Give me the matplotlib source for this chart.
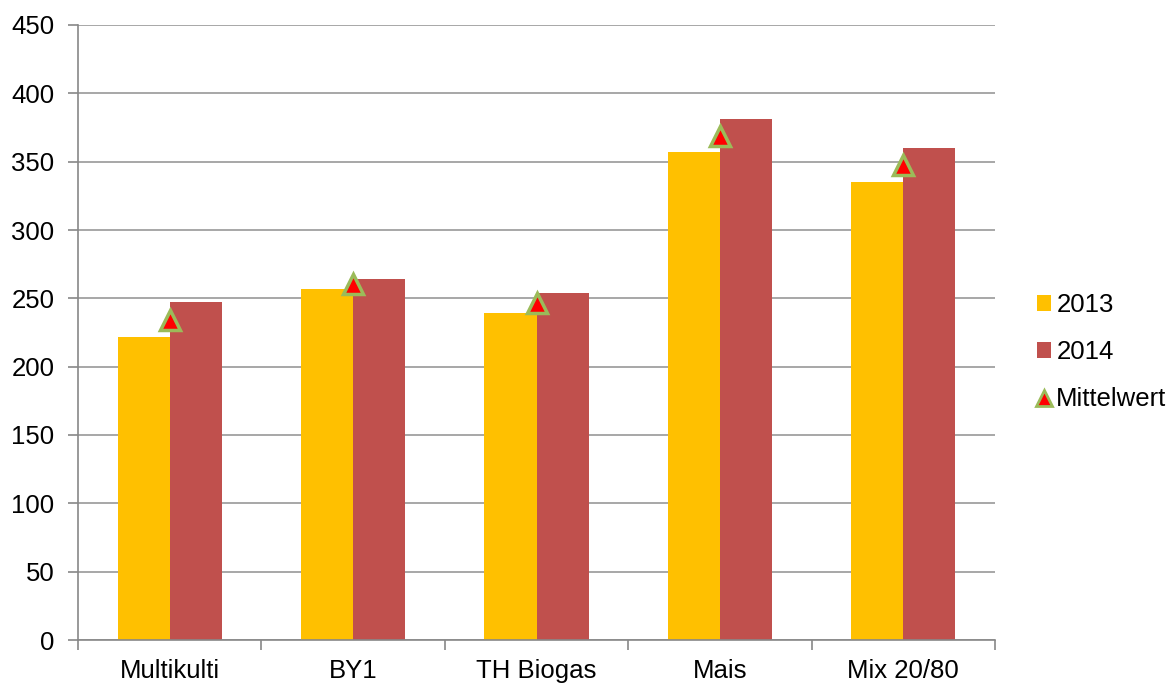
import matplotlib
matplotlib.use("Agg")
import matplotlib.pyplot as plt
import numpy as np
from matplotlib.lines import Line2D
from matplotlib.patches import Patch

categories = ["Multikulti", "BY1", "TH Biogas", "Mais", "Mix 20/80"]
values_2013 = [222, 257, 239, 357, 335]
values_2014 = [247, 264, 254, 381, 360]
mittelwert = [234.5, 260.5, 246.5, 369, 347.5]
yticks = [0, 50, 100, 150, 200, 250, 300, 350, 400, 450]

plt.rcParams['font.family'] = ['Liberation Sans', 'DejaVu Sans']
FS = 18.5

fig = plt.figure(figsize=(11.72, 6.84), dpi=100)
ax = fig.add_axes([78/1172, 44/684, (995-78)/1172, (640-25)/684])

x = np.arange(len(categories))
w = 0.284
ax.bar(x - w/2, values_2013, width=w, color="#FFC000", label="2013", zorder=2)
ax.bar(x + w/2, values_2014, width=w, color="#C0504D", label="2014", zorder=2)
ax.plot(x, mittelwert, linestyle="none", marker="^", markersize=14,
        markerfacecolor="#FF0000", markeredgecolor="#9BBB59", markeredgewidth=2.5,
        label="Mittelwert", zorder=3)

ax.set_xlim(-0.5, len(categories) - 0.5)
ax.set_ylim(0, 450)
ax.set_yticks(yticks)
ax.yaxis.grid(True, color="#A0A0A0", linewidth=1.3, zorder=0)
ax.set_axisbelow(True)

ax.set_xticks(x)
ax.set_xticklabels(categories, fontsize=FS)
ax.set_xticks(np.arange(len(categories) + 1) - 0.5, minor=True)
ax.tick_params(axis="x", which="major", length=0, pad=14)
ax.tick_params(axis="x", which="minor", length=7, color="#888888", width=1.2)
ax.tick_params(axis="y", labelsize=FS, length=7, color="#888888", width=1.2, pad=10)

for s in ["top", "right"]:
    ax.spines[s].set_visible(False)
for s in ["left", "bottom"]:
    ax.spines[s].set_color("#888888")
    ax.spines[s].set_linewidth(1.2)

handles = [
    Patch(facecolor="#FFC000", label="2013"),
    Patch(facecolor="#C0504D", label="2014"),
    Line2D([], [], linestyle="none", marker="^", markersize=12,
           markerfacecolor="#FF0000", markeredgecolor="#9BBB59", markeredgewidth=2.0,
           label="Mittelwert"),
]
leg = fig.legend(handles=handles, loc="center left", bbox_to_anchor=(1037/1172, 1 - 352/684),
                 frameon=False, fontsize=FS, handlelength=0.55, handleheight=0.55,
                 handletextpad=0.2, labelspacing=0.9, borderpad=0, borderaxespad=0)

fig.savefig("out.png", dpi=100)
